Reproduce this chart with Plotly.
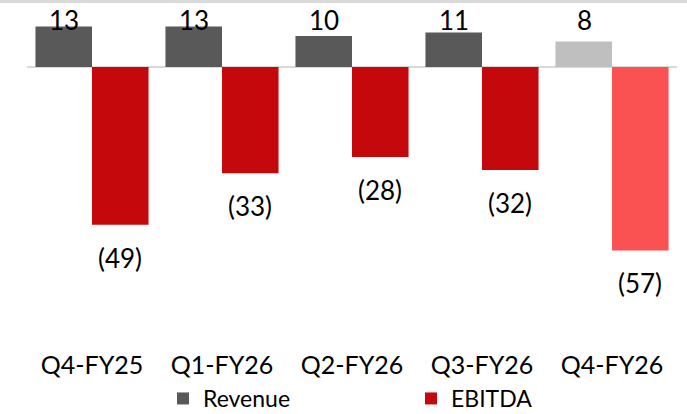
import plotly.graph_objects as go

categories = ["Q4-FY25", "Q1-FY26", "Q2-FY26", "Q3-FY26", "Q4-FY26"]
revenue = [12.6, 12.6, 9.6, 10.7, 7.9]
revenue_labels = ["13", "13", "10", "11", "8"]
ebitda = [-49, -33, -28, -32, -57]
ebitda_labels = ["(49)", "(33)", "(28)", "(32)", "(57)"]

rev_colors = ["#595959", "#595959", "#595959", "#595959", "#bfbfbf"]
ebit_colors = ["#c5080b", "#c5080b", "#c5080b", "#c5080b", "#fa5252"]

FONT = "Lato"

fig = go.Figure()
fig.add_trace(go.Bar(x=categories, y=revenue, name="Revenue",
                     marker=dict(color=rev_colors, line=dict(width=0))))
fig.add_trace(go.Bar(x=categories, y=ebitda, name="EBITDA",
                     marker=dict(color=ebit_colors, line=dict(width=0))))

annotations = []
for c, lab in zip(categories, revenue_labels):
    annotations.append(dict(x=c, y=0.939, xref="x", yref="paper", text=lab,
                            showarrow=False, xshift=-28, yanchor="middle",
                            font=dict(family=FONT, size=26, color="#000000")))
for c, v, lab in zip(categories, ebitda, ebitda_labels):
    annotations.append(dict(x=c, y=v, xref="x", yref="y", text=lab,
                            showarrow=False, xshift=28, yshift=-33,
                            yanchor="middle",
                            font=dict(family=FONT, size=26, color="#000000")))

fig.update_layout(
    width=687, height=414,
    margin=dict(l=27, r=10, t=0, b=84, autoexpand=False),
    paper_bgcolor="white", plot_bgcolor="white",
    barmode="group", bargap=0.13, bargroupgap=0,
    font=dict(family=FONT, color="#000000"),
    xaxis=dict(showgrid=False, showline=False, ticks="",
               tickfont=dict(family=FONT, size=25, color="#000000"),
               ticklabelstandoff=18),
    yaxis=dict(range=[-81.7, 20.8], showgrid=False, showticklabels=False,
               zeroline=True, zerolinecolor="#d9d9d9", zerolinewidth=2),
    showlegend=True,
    legend=dict(orientation="h", x=(163 - 27) / 650, xanchor="left",
                y=-0.2727, yanchor="bottom",
                font=dict(family=FONT, size=23, color="#000000"),
                entrywidth=203, entrywidthmode="pixels",
                bgcolor="rgba(0,0,0,0)"),
    annotations=annotations,
    shapes=[dict(type="line", xref="paper", yref="paper",
                 x0=-0.06, x1=1.02, y0=1, y1=1,
                 line=dict(color="#d9d9d9", width=6))],
)

fig.write_html("out.html",
               config={"displayModeBar": False},
               post_script="document.body.style.margin='0';document.body.style.overflow='hidden';")
